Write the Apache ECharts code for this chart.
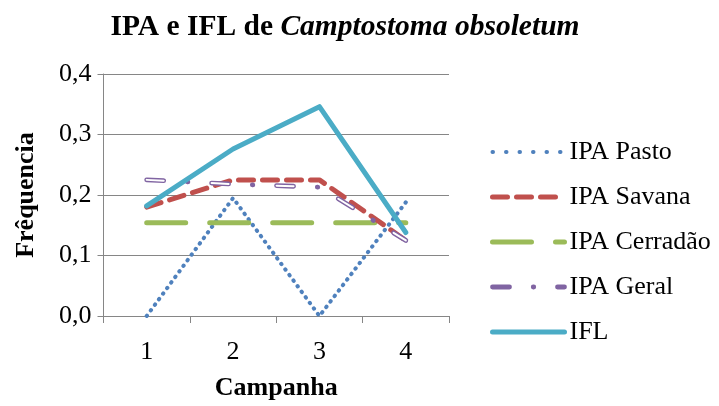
<!DOCTYPE html>
<html><head><meta charset="utf-8">
<script src="https://cdn.jsdelivr.net/npm/echarts@6/dist/echarts.min.js"></script>
<style>html,body{margin:0;padding:0;background:#fff}#c{width:719px;height:406px}</style>
</head><body><div id="c"></div>
<script>
const categories = ['1', '2', '3', '4'];
const ipaPasto = [0, 0.195, 0, 0.188];
const ipaSavana = [0.18, 0.225, 0.225, 0.125];
const ipaCerradao = [0.154, 0.154, 0.154, 0.154];
const ipaGeral = [0.225, 0.218, 0.213, 0.125];
const ifl = [0.182, 0.276, 0.346, 0.138];
const yTicks = [0, 0.1, 0.2, 0.3, 0.4];

const font = 'Liberation Serif';
const chart = echarts.init(document.getElementById('c'));
const pastoStyle = { color: '#4f81bd', width: 4, type: [0.5, 6.4], cap: 'round' };
const savanaStyle = { color: '#c0504d', width: 5, type: [15, 9], cap: 'round' };
const cerradaoStyle = { color: '#9bbb59', width: 5, type: [39, 24], cap: 'round' };
const geralStyle = { color: '#8064a2', width: 4.8, type: [17, 23.75, 0.5, 23.75], cap: 'round' };
const geralInner = { color: '#ffffff', width: 2, type: [17, 48], cap: 'round' };
const iflStyle = { color: '#4bacc6', width: 5, cap: 'round', join: 'round' };
chart.setOption({
  animation: false,
  textStyle: { fontFamily: font, color: '#000' },
  title: {
    text: '{b|IPA e IFL de }{i|Camptostoma obsoletum}',
    left: 340, top: 7, textAlign: 'center',
    textStyle: { rich: {
      b: { fontFamily: font, fontWeight: 'bold', fontSize: 29.5, color: '#000' },
      i: { fontFamily: font, fontWeight: 'bold', fontStyle: 'italic', fontSize: 29.5, color: '#000' }
    } }
  },
  grid: { left: 103.5, right: 270, top: 74, bottom: 88, containLabel: false },
  legend: {
    orient: 'vertical', left: 490, top: 139, padding: 0,
    itemWidth: 72, itemHeight: 14, itemGap: 19,
    itemStyle: { opacity: 0 },
    data: [
      { name: 'IPA Pasto', lineStyle: { ...pastoStyle, type: [0.5, 13] } },
      { name: 'IPA Savana', lineStyle: savanaStyle },
      { name: 'IPA Cerradão', lineStyle: cerradaoStyle },
      { name: 'IPA Geral', lineStyle: geralStyle },
      { name: 'IFL', lineStyle: iflStyle }
    ],
    textStyle: { fontFamily: font, fontWeight: 'normal', fontSize: 26, color: '#000' }
  },
  xAxis: {
    type: 'category', data: categories, boundaryGap: true,
    name: 'Campanha', nameLocation: 'middle', nameGap: 59,
    nameTextStyle: { fontFamily: font, fontWeight: 'bold', fontSize: 26, color: '#000' },
    axisLine: { lineStyle: { color: '#868686', width: 1 } },
    axisTick: { show: true, length: 7, lineStyle: { color: '#868686' } },
    axisLabel: { fontFamily: font, fontWeight: 'normal', fontSize: 26, color: '#000', margin: 23 }
  },
  yAxis: {
    type: 'value', min: 0, max: 0.4, interval: 0.1,
    name: 'Frêquencia', nameLocation: 'middle', nameGap: 64, nameRotate: 90,
    nameTextStyle: { fontFamily: font, fontWeight: 'bold', fontSize: 26, color: '#000' },
    axisLine: { show: true, lineStyle: { color: '#868686', width: 1 } },
    axisTick: { show: true, length: 6, lineStyle: { color: '#868686' } },
    splitLine: { lineStyle: { color: '#868686', width: 1 } },
    axisLabel: { fontFamily: font, fontWeight: 'normal', fontSize: 26, color: '#000', margin: 12,
      formatter: v => v.toFixed(1).replace('.', ',') }
  },
  series: [
    { name: 'IPA Pasto', type: 'line', data: ipaPasto, symbol: 'none', z: 2,
      lineStyle: pastoStyle, itemStyle: { color: '#4f81bd' } },
    { name: 'IPA Savana', type: 'line', data: ipaSavana, symbol: 'none', z: 3,
      lineStyle: savanaStyle, itemStyle: { color: '#c0504d' } },
    { name: 'IPA Cerradão', type: 'line', data: ipaCerradao, symbol: 'none', z: 2,
      lineStyle: cerradaoStyle, itemStyle: { color: '#9bbb59' } },
    { name: 'IPA Geral', type: 'line', data: ipaGeral, symbol: 'none', z: 4,
      lineStyle: geralStyle, itemStyle: { color: '#8064a2' } },
    { name: 'IPA Geral overlay', type: 'line', data: ipaGeral, symbol: 'none', z: 5, silent: true,
      lineStyle: geralInner },
    { name: 'IFL', type: 'line', data: ifl, symbol: 'none', z: 6,
      lineStyle: iflStyle, itemStyle: { color: '#4bacc6' } }
  ]
});
</script></body></html>
